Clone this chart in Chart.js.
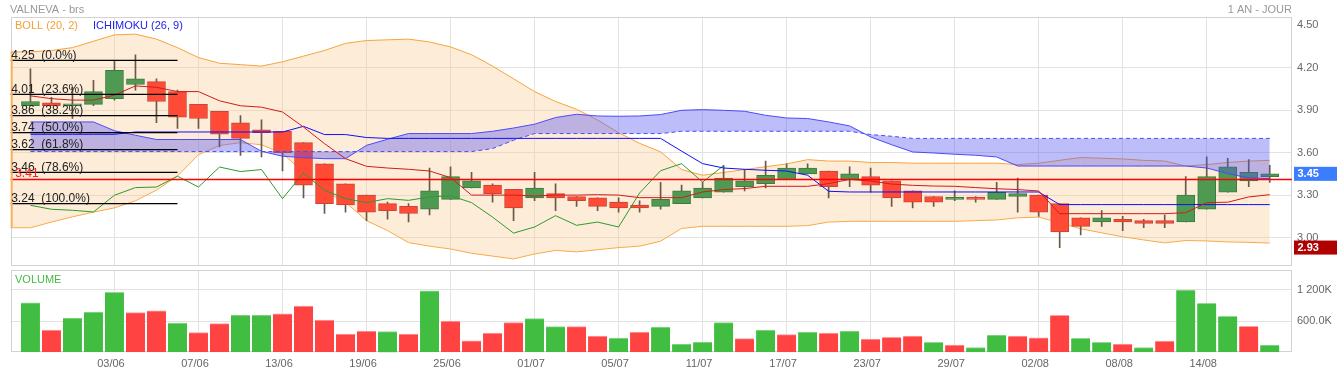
<!DOCTYPE html>
<html>
<head>
<meta charset="utf-8">
<script src="https://cdn.jsdelivr.net/npm/chart.js@4"></script>
<style>
  body { margin: 0; background: #fff; }
  #wrap { position: relative; width: 1337px; height: 373px; }
  canvas { position: absolute; left: 0; }
  #price { top: 0; }
  #vol { top: 268px; }
</style>
</head>
<body>
<div id="wrap">
  <canvas id="price" width="1337" height="268"></canvas>
  <canvas id="vol" width="1337" height="105"></canvas>
</div>
<script>
// trading days shown on the chart (2024)
const days = ['28/05','29/05','30/05','31/05','03/06','04/06','05/06','06/06','07/06','10/06',
  '11/06','12/06','13/06','14/06','17/06','18/06','19/06','20/06','21/06','24/06',
  '25/06','26/06','27/06','28/06','01/07','02/07','03/07','04/07','05/07','08/07',
  '09/07','10/07','11/07','12/07','15/07','16/07','17/07','18/07','19/07','22/07',
  '23/07','24/07','25/07','26/07','29/07','30/07','31/07','01/08','02/08','05/08',
  '06/08','07/08','08/08','09/08','12/08','13/08','14/08','15/08','16/08','19/08'];
const xTickLabels = ['03/06','07/06','13/06','19/06','25/06','01/07','05/07','11/07','17/07','23/07','29/07','02/08','08/08','14/08'];

const opens  = [3.93,3.95,3.93,3.94,3.98,4.08,4.10,4.03,3.94,3.89, 3.81,3.76,3.75,3.67,3.52,3.38,3.30,3.24,3.22,3.20,
                3.27,3.35,3.37,3.34,3.28,3.31,3.29,3.28,3.25,3.23, 3.22,3.24,3.28,3.32,3.36,3.38,3.41,3.45,3.47,3.41,
                3.43,3.40,3.33,3.29,3.27,3.28,3.27,3.29,3.30,3.24, 3.14,3.11,3.13,3.12,3.12,3.11,3.20,3.32,3.40,3.43];
const highs  = [4.19,3.99,4.06,4.11,4.25,4.29,4.12,4.04,3.94,3.89, 3.86,3.83,3.75,3.67,3.52,3.38,3.30,3.25,3.24,3.49,
                3.50,3.46,3.38,3.34,3.46,3.38,3.29,3.28,3.28,3.26, 3.39,3.37,3.39,3.51,3.48,3.54,3.52,3.52,3.47,3.50,
                3.49,3.40,3.33,3.29,3.33,3.29,3.39,3.42,3.30,3.24, 3.14,3.19,3.15,3.13,3.16,3.43,3.57,3.56,3.55,3.51];
const lows   = [3.93,3.93,3.84,3.93,3.97,4.04,3.81,3.77,3.77,3.64, 3.58,3.57,3.47,3.28,3.17,3.18,3.12,3.13,3.11,3.16,
                3.27,3.35,3.25,3.12,3.26,3.19,3.22,3.19,3.18,3.18, 3.20,3.24,3.28,3.32,3.33,3.35,3.41,3.45,3.28,3.36,
                3.32,3.22,3.21,3.22,3.26,3.25,3.27,3.18,3.15,2.93, 3.02,3.08,3.05,3.07,3.07,3.11,3.20,3.32,3.36,3.39];
const closes = [3.96,3.93,3.94,4.03,4.18,4.12,3.96,3.85,3.84,3.73, 3.70,3.74,3.60,3.37,3.24,3.23,3.18,3.19,3.17,3.33,
                3.43,3.40,3.31,3.21,3.35,3.28,3.26,3.22,3.21,3.21, 3.27,3.33,3.35,3.42,3.40,3.44,3.49,3.49,3.36,3.45,
                3.37,3.28,3.25,3.25,3.28,3.27,3.32,3.31,3.18,3.04, 3.08,3.14,3.11,3.10,3.10,3.30,3.43,3.50,3.46,3.45];

// volume in thousands, and its bar colour (1 = green, 0 = red)
const volumes = [955,430,660,776,1156,763,801,564,378,551, 718,718,743,892,622,352,410,397,352,1186,
                 603,223,372,570,647,493,493,314,275,391, 487,160,198,570,262,430,339,391,372,410,
                 256,289,314,193,141,89,333,314,281,713, 270,193,160,89,218,1200,944,693,501,141];
const volUp = [1,0,1,1,1,0,0,1,0,0, 1,1,0,0,0,0,0,1,0,1, 0,0,0,0,1,1,0,0,1,0,
               1,1,1,1,0,1,0,1,0,1, 0,0,0,1,0,1,1,0,0,0, 1,1,0,1,0,1,1,1,0,1];

// Bollinger (20, 2) – first value sits one day before the window
const bandStart = -1;
const bollUpper = [4.31,4.31,4.32,4.34,4.385,4.43,4.435,4.40,4.34,4.27,4.23, 4.22,4.21,4.24,4.28,4.32,4.37,4.39,4.395,4.40,4.38,
                   4.345,4.29,4.21,4.12,4.03,3.96,3.905,3.83,3.74,3.665, 3.605,3.48,3.44,3.46,3.48,3.50,3.52,3.55,3.54,3.54,
                   3.53,3.53,3.525,3.525,3.525,3.525,3.525,3.515,3.525,3.545, 3.565,3.56,3.555,3.545,3.54,3.505,3.515,3.53,3.54,3.545];
const bollLower = [3.07,3.07,3.11,3.147,3.18,3.21,3.26,3.335,3.435,3.585,3.65, 3.67,3.655,3.595,3.46,3.325,3.25,3.12,3.05,2.965,2.94,
                   2.92,2.89,2.87,2.85,2.885,2.91,2.90,2.915,2.93,2.94, 2.975,3.065,3.08,3.08,3.08,3.08,3.08,3.085,3.11,3.115,
                   3.115,3.115,3.115,3.115,3.115,3.12,3.125,3.14,3.145,3.105, 3.063,3.034,3.006,2.984,2.963,2.98,2.977,2.97,2.967,2.962];

// Ichimoku (26, 9)
const tenkan = [4.00,3.98,3.97,3.97,4.005,4.07,4.06,4.03,4.03,3.965, 3.93,3.92,3.886,3.78,3.663,3.557,3.503,3.491,3.482,3.47,
                3.423,3.30,3.30,3.30,3.294,3.30,3.30,3.303,3.30,3.282, 3.282,3.282,3.322,3.339,3.346,3.362,3.362,3.362,3.381,3.411,
                3.399,3.378,3.369,3.364,3.362,3.353,3.345,3.339,3.329,3.169, 3.169,3.169,3.169,3.169,3.169,3.176,3.247,3.25,3.287,3.303];
const kijun = [3.729,3.729,3.729,3.729,3.729,3.745,3.745,3.745,3.745,3.745, 3.745,3.745,3.745,3.785,3.727,3.727,3.706,3.70,3.70,3.70,
               3.70,3.70,3.70,3.70,3.70,3.70,3.70,3.70,3.70,3.70, 3.70,3.61,3.522,3.491,3.482,3.475,3.47,3.44,3.327,3.322,
               3.322,3.322,3.322,3.322,3.322,3.322,3.322,3.322,3.322,3.233, 3.233,3.233,3.233,3.233,3.233,3.233,3.233,3.233,3.233,3.233];
const senkouA = [3.816,3.816,3.816,3.816,3.754,3.722,3.692,3.692,3.692,3.692, 3.692,3.609,3.574,3.564,3.557,3.557,3.651,3.694,3.734,3.734,
                 3.734,3.734,3.75,3.773,3.80,3.847,3.87,3.858,3.856,3.858, 3.868,3.898,3.903,3.898,3.891,3.863,3.844,3.84,3.816,3.788,
                 3.71,3.655,3.604,3.597,3.588,3.581,3.569,3.505,3.505,3.505, 3.505,3.505,3.505,3.505,3.505,3.505,3.491,3.452,3.421,3.416];
const senkouB = [3.607,3.607,3.607,3.607,3.607,3.607,3.607,3.607,3.607,3.607, 3.607,3.607,3.607,3.607,3.607,3.607,3.607,3.607,3.607,3.607,
                 3.607,3.607,3.628,3.687,3.734,3.734,3.734,3.734,3.734,3.734, 3.734,3.75,3.75,3.75,3.75,3.75,3.75,3.75,3.75,3.75,
                 3.727,3.715,3.70,3.70,3.70,3.70,3.70,3.70,3.70,3.70, 3.70,3.70,3.70,3.70,3.70,3.70,3.70,3.70,3.70,3.70];
const chikou = [3.228,3.200,3.193,3.181,3.299,3.353,3.357,3.433,3.357,3.498, 3.466,3.480,3.275,3.456,3.334,3.275,3.247,3.275,3.263,3.287,
                3.296,3.247,3.145,3.032,3.075,3.155,3.087,3.110,3.075,3.315, 3.472,3.522,3.392,3.508];

// Fibonacci retracement and reference line
const fibLevels = [4.25, 4.01, 3.86, 3.74, 3.62, 3.46, 3.24];
const fibPcts = [0.0, 23.6, 38.2, 50.0, 61.8, 78.6, 100.0];
const fibEnd = 7;
const refLevel = 3.41;

const priceTicks = [3.00, 3.30, 3.60, 3.90, 4.20, 4.50];
const volTicks = [600, 1200];

Chart.defaults.font.family = "'Liberation Sans', Arial, sans-serif";
Chart.defaults.font.size = 11;
Chart.defaults.animation = false;

const FONT = "'Liberation Sans', Arial, sans-serif";
const gridColor = '#e2e2e2';
const xMin = -0.94, xMax = 60.06;
const series = (arr, start = 0) => arr.map((v, k) => ({ x: k + start, y: v }));
const up = days.map((d, i) => closes[i] >= opens[i]);
const tickIdx = xTickLabels.map(l => days.indexOf(l));

// keep the plot area where it is: no extra room for tick labels
const noPad = s => { s.paddingTop = 0; s.paddingBottom = 0; s.paddingLeft = 0; s.paddingRight = 0; };

function xScale(showLabels) {
  return {
    type: 'linear', min: xMin, max: xMax, offset: false,
    grid: { color: gridColor, drawTicks: false, offset: false },
    border: { display: false },
    afterBuildTicks: s => { s.ticks = tickIdx.map(v => ({ value: v })); },
    afterFit: s => { s.height = showLabels ? 20.7 : 0; noPad(s); },
    ticks: {
      display: showLabels, color: '#666', padding: 5, labelOffset: -3.5,
      autoSkip: false, maxRotation: 0, callback: v => days[v]
    }
  };
}

const frame = {
  id: 'frame',
  beforeDatasetsDraw(c) {
    const a = c.chartArea, g = c.ctx;
    g.save();
    g.strokeStyle = '#d2d2d2';
    g.lineWidth = 1;
    g.strokeRect(Math.round(a.left) + 0.5, Math.round(a.top) + 0.5,
                 Math.round(a.right - a.left) - 1, Math.round(a.bottom - a.top) - 1);
    g.restore();
  }
};

const priceOverlay = {
  id: 'priceOverlay',
  afterDatasetsDraw(c) {
    const a = c.chartArea, g = c.ctx, ys = c.scales.y;
    g.save();
    // orange left edge of the band
    g.strokeStyle = '#F7B060';
    g.lineWidth = 2;
    g.beginPath();
    g.moveTo(a.left + 1, ys.getPixelForValue(bollUpper[0]));
    g.lineTo(a.left + 1, ys.getPixelForValue(bollLower[0]));
    g.stroke();
    // fibonacci labels
    g.font = '12px ' + FONT;
    g.textBaseline = 'alphabetic';
    g.textAlign = 'left';
    g.fillStyle = '#222';
    fibLevels.forEach((lv, k) => {
      g.fillText(lv.toFixed(2) + '  (' + fibPcts[k].toFixed(1) + '%)', a.left + 0.5, ys.getPixelForValue(lv) - 1.5);
    });
    g.fillStyle = '#FF2020';
    g.fillText(refLevel.toFixed(2), a.left + 4.5, ys.getPixelForValue(refLevel) - 2.5);
    g.restore();
  },
  afterDraw(c) {
    const a = c.chartArea, g = c.ctx, ys = c.scales.y;
    g.save();
    g.font = '11px ' + FONT;
    g.textBaseline = 'alphabetic';
    g.fillStyle = '#999';
    g.textAlign = 'left';
    g.fillText('VALNEVA - brs', 10, 12.7);
    g.textAlign = 'right';
    g.fillText('1 AN - JOUR', a.right, 13);
    g.textAlign = 'left';
    g.fillStyle = '#F5A033';
    g.fillText('BOLL (20, 2)', 15, 29.3);
    g.fillStyle = '#2222EE';
    g.fillText('ICHIMOKU (26, 9)', 93, 29.3);
    // value badges on the price axis
    const badge = (v, col) => {
      const y = ys.getPixelForValue(v);
      g.fillStyle = col;
      g.fillRect(a.right + 2, y - 7, c.width - a.right - 2, 14);
      g.fillStyle = '#fff';
      g.font = 'bold 11px ' + FONT;
      g.textBaseline = 'middle';
      g.fillText(v.toFixed(2), a.right + 5.5, y + 0.5);
    };
    badge(closes[closes.length - 1], '#3A7DFF');
    badge(Math.min(...lows), '#B00000');
    g.restore();
  }
};

const lineDs = (data, color, order, extra) => Object.assign({
  type: 'line', data, borderColor: color, borderWidth: 1, pointRadius: 0,
  tension: 0, fill: false, order
}, extra || {});

const datasets = [];
fibLevels.forEach(lv => datasets.push(lineDs([{ x: -1, y: lv }, { x: fibEnd, y: lv }], '#000', 0, { borderWidth: 1.3 })));
datasets.push(lineDs([{ x: -1, y: refLevel }, { x: 61, y: refLevel }], '#FF0000', 1, { borderWidth: 1.5 }));
datasets.push(lineDs(series(tenkan), '#D41A1A', 2));
datasets.push(lineDs(series(kijun), '#0D0DFF', 2));
datasets.push(lineDs(series(chikou), '#2E9A2E', 2));
datasets.push(lineDs(series(senkouA), '#4A4AFF', 3, { fill: '+1', backgroundColor: 'rgba(82,82,240,0.38)' }));
datasets.push(lineDs(series(senkouB), '#4A4AFF', 3, { borderDash: [4, 3] }));
datasets.push({
  type: 'bar', order: 4, grouped: false, barThickness: 18, minBarLength: 2,
  data: days.map((d, i) => ({ x: i, y: [opens[i], closes[i]] })),
  backgroundColor: up.map(u => u ? '#4E9A52' : '#FF4A36'),
  borderColor: up.map(u => u ? '#3C7A3E' : '#C94534'),
  borderWidth: 1, borderSkipped: false
});
datasets.push({
  type: 'bar', order: 5, grouped: false, barThickness: 1,
  data: days.map((d, i) => ({ x: i, y: [lows[i], highs[i]] })),
  backgroundColor: '#6A5848', borderWidth: 0
});
datasets.push(lineDs(series(bollUpper, bandStart), '#F7A43C', 6, { fill: '+1', backgroundColor: 'rgba(250,200,140,0.35)' }));
datasets.push(lineDs(series(bollLower, bandStart), '#F7A43C', 6));

new Chart(document.getElementById('price'), {
  type: 'line',
  data: { datasets },
  options: {
    responsive: false, devicePixelRatio: 1,
    layout: { padding: { left: 10.7, top: 17, right: 0, bottom: 2 } },
    plugins: { legend: { display: false }, tooltip: { enabled: false } },
    scales: {
      x: xScale(false),
      y: {
        type: 'linear', position: 'right', min: 2.80, max: 4.556,
        afterBuildTicks: s => { s.ticks = priceTicks.map(v => ({ value: v })); },
        afterFit: s => { s.width = 45; noPad(s); },
        ticks: { color: '#666', padding: 5, callback: v => v.toFixed(2) },
        // the top tick is labelled but sits under the legend row without a rule
        grid: { color: ctx => (ctx.tick && ctx.tick.value === priceTicks[priceTicks.length - 1]) ? 'rgba(0,0,0,0)' : gridColor, drawTicks: false },
        border: { display: false }
      }
    }
  },
  plugins: [frame, priceOverlay]
});

const volOverlay = {
  id: 'volOverlay',
  afterDraw(c) {
    const g = c.ctx;
    g.save();
    g.font = '11px ' + FONT;
    g.fillStyle = '#44BB44';
    g.textBaseline = 'alphabetic';
    g.fillText('VOLUME', 15, 14.7);
    g.restore();
  }
};

new Chart(document.getElementById('vol'), {
  type: 'bar',
  data: {
    datasets: [{
      data: volumes.map((v, i) => ({ x: i, y: v })),
      backgroundColor: volUp.map(u => u ? '#41BD41' : '#FF4343'),
      borderColor: volUp.map(u => u ? '#8FDA8F' : '#FF9C9C'),
      borderWidth: { top: 1, left: 0, right: 0, bottom: 0 },
      barThickness: 19, grouped: false
    }]
  },
  options: {
    responsive: false, devicePixelRatio: 1,
    layout: { padding: { left: 10.7, top: 2, right: 0, bottom: 0 } },
    plugins: { legend: { display: false }, tooltip: { enabled: false } },
    scales: {
      x: xScale(true),
      y: {
        type: 'linear', position: 'right', min: 0, max: 1585,
        afterBuildTicks: s => { s.ticks = volTicks.map(v => ({ value: v })); },
        afterFit: s => { s.width = 45; noPad(s); },
        ticks: {
          color: '#666', padding: 5,
          callback: v => v >= 1000 ? Math.floor(v / 1000) + ' ' + String(v % 1000).padStart(3, '0') + 'K' : v.toFixed(1) + 'K'
        },
        grid: { color: gridColor, drawTicks: false },
        border: { display: false }
      }
    }
  },
  plugins: [frame, volOverlay]
});
</script>
</body>
</html>
